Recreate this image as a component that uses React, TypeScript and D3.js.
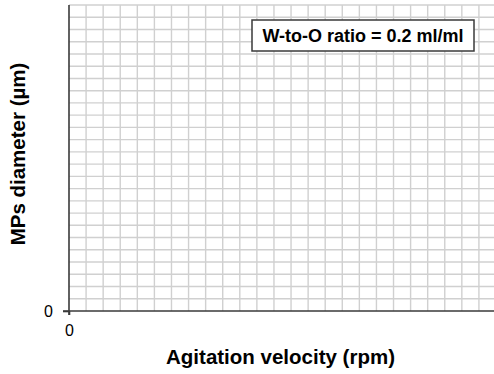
import { useRef, useEffect } from "react";
import { select, scaleLinear, axisBottom, axisLeft, range } from "d3";

// chart content (empty template: only zero ticks shown)
const xTickValues = [0];
const yTickValues = [0];
const gridSteps = range(0, 26); // 25 grid divisions on each axis
const xTitle = "Agitation velocity (rpm)";
const yTitle = "MPs diameter (µm)";
const legendLabel = "W-to-O ratio = 0.2 ml/ml";

const W = 494;
const H = 374;
const margin = { top: 5, right: -2, bottom: 63, left: 69 };
const innerW = W - margin.left - margin.right;
const innerH = H - margin.top - margin.bottom;
const FONT = "Liberation Sans, Arial, sans-serif";

export default function App() {
  const svgRef = useRef<SVGSVGElement>(null);

  useEffect(() => {
    const svg = select(svgRef.current);
    const g = svg.select(".chart");

    const x = scaleLinear().domain([0, 25]).range([0, innerW]);
    const y = scaleLinear().domain([0, 25]).range([innerH, 0]);

    // grid
    g.select(".grid")
      .selectAll(".vline")
      .data(gridSteps.slice(1))
      .join("line")
      .attr("class", "vline")
      .attr("x1", d => x(d))
      .attr("x2", d => x(d))
      .attr("y1", 0)
      .attr("y2", innerH)
      .attr("stroke", "#d0d0d0")
      .attr("stroke-width", 1.4);
    g.select(".grid")
      .selectAll(".hline")
      .data(gridSteps.slice(1))
      .join("line")
      .attr("class", "hline")
      .attr("x1", 0)
      .attr("x2", innerW)
      .attr("y1", d => y(d))
      .attr("y2", d => y(d))
      .attr("stroke", "#d0d0d0")
      .attr("stroke-width", 1.4);

    // x-axis
    const xAxis = axisBottom(x)
      .tickValues(xTickValues)
      .tickSize(4)
      .tickPadding(10)
      .tickFormat(d => String(d));
    const xa = g.select(".x-axis")
      .attr("transform", `translate(0, ${innerH})`)
      .call(xAxis as any);
    xa.select(".domain").attr("stroke", "#3a3a3a").attr("stroke-width", 1.6)
      .attr("d", `M-6,0H${innerW}`);
    xa.selectAll(".tick line").attr("stroke", "#3a3a3a").attr("stroke-width", 1.6);
    xa.selectAll(".tick text")
      .style("font-family", FONT).style("font-size", "16px").attr("fill", "#000");

    // y-axis
    const yAxis = axisLeft(y)
      .tickValues(yTickValues)
      .tickSize(6)
      .tickPadding(10)
      .tickFormat(d => String(d));
    const ya = g.select(".y-axis").call(yAxis as any);
    ya.select(".domain").attr("stroke", "#3a3a3a").attr("stroke-width", 1.6)
      .attr("d", `M0,0V${innerH + 4}`);
    ya.selectAll(".tick line").attr("stroke", "#3a3a3a").attr("stroke-width", 1.6);
    ya.selectAll(".tick text")
      .style("font-family", FONT).style("font-size", "16px").attr("fill", "#000");

    // axis titles
    g.select(".x-label")
      .attr("x", innerW / 2 - 2)
      .attr("y", innerH + 53)
      .attr("text-anchor", "middle")
      .style("font-family", FONT)
      .style("font-size", "20.5px")
      .style("font-weight", "bold")
      .text(xTitle);
    g.select(".y-label")
      .attr("transform", "rotate(-90)")
      .attr("x", -(innerH / 2) + 4)
      .attr("y", -44)
      .attr("text-anchor", "middle")
      .style("font-family", FONT)
      .style("font-size", "20.5px")
      .style("font-weight", "bold")
      .text(yTitle);

    // legend box
    const lg = g.select(".legend").attr("transform", "translate(183, 15)");
    lg.select("rect")
      .attr("width", 222)
      .attr("height", 31)
      .attr("fill", "#fff")
      .attr("stroke", "#3a3a3a")
      .attr("stroke-width", 1.5);
    lg.select("text")
      .attr("x", 111)
      .attr("y", 22)
      .attr("text-anchor", "middle")
      .style("font-family", FONT)
      .style("font-size", "18px")
      .style("font-weight", "bold")
      .text(legendLabel);
  }, []);

  return (
    <svg
      ref={svgRef}
      width={W}
      height={H}
      style={{ position: "absolute", left: 0, top: 0, background: "#fff" }}
    >
      <g className="chart" transform={`translate(${margin.left}, ${margin.top})`}>
        <g className="grid" />
        <g className="x-axis" />
        <g className="y-axis" />
        <text className="x-label" />
        <text className="y-label" />
        <g className="legend">
          <rect />
          <text />
        </g>
      </g>
    </svg>
  );
}
